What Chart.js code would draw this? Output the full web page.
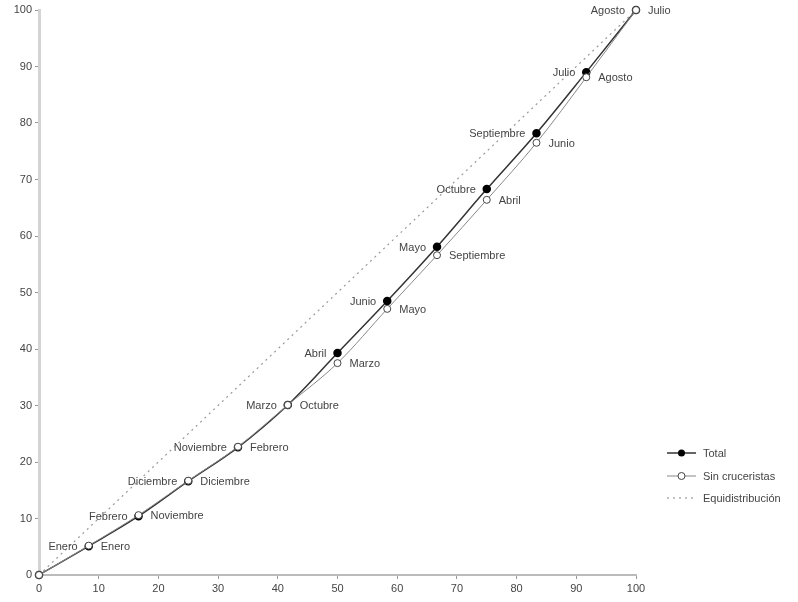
<!DOCTYPE html>
<html lang="es">
<head>
<meta charset="utf-8">
<title>Curva de concentración mensual</title>
<script src="https://cdn.jsdelivr.net/npm/chart.js@4.4.1/dist/chart.umd.min.js"></script>
<style>
  html, body { margin: 0; padding: 0; background: #fff; }
  .wrap { width: 798px; height: 602px; position: relative; }
</style>
</head>
<body>
<div class="wrap"><canvas id="lorenz"></canvas></div>
<script>
// % acumulado de meses (eje X), cada mes = 1/12
var monthPct = [0, 8.33, 16.67, 25, 33.33, 41.67, 50, 58.33, 66.67, 75, 83.33, 91.67, 100];
// % acumulado Total y sin cruceristas (eje Y)
var totalPct = [0, 5.1, 10.4, 16.6, 22.6, 30.1, 39.3, 48.5, 58.1, 68.3, 78.2, 89.0, 100];
var sinPct = [0, 5.2, 10.6, 16.7, 22.7, 30.1, 37.5, 47.1, 56.6, 66.4, 76.5, 88.1, 100];
var totalLabels = ["", "Enero", "Febrero", "Diciembre", "Noviembre", "Marzo", "Abril", "Junio", "Mayo", "Octubre", "Septiembre", "Julio", "Agosto"];
var sinLabels = ["", "Enero", "Noviembre", "Diciembre", "Febrero", "Octubre", "Marzo", "Mayo", "Septiembre", "Abril", "Junio", "Agosto", "Julio"];
var equiX = [0, 100];
var equiY = [0, 100];
var ticks = [0, 10, 20, 30, 40, 50, 60, 70, 80, 90, 100];

(function () {
  "use strict";

  var FONT = "'Liberation Sans', Arial, sans-serif";
  var TEXT = "#444";

  function pts(xs, ys) {
    return xs.map(function (x, i) { return { x: x, y: ys[i] }; });
  }

  // etiquetas de mes junto a cada punto
  var pointLabels = {
    id: "pointLabels",
    afterDatasetsDraw: function (chart) {
      var ctx = chart.ctx;
      ctx.save();
      ctx.font = "11px " + FONT;
      ctx.fillStyle = TEXT;
      ctx.textBaseline = "middle";
      [[0, totalLabels, "right", -11], [1, sinLabels, "left", 12]].forEach(function (cfg) {
        var meta = chart.getDatasetMeta(cfg[0]);
        ctx.textAlign = cfg[2];
        meta.data.forEach(function (p, i) {
          if (!cfg[1][i]) return;
          ctx.fillText(cfg[1][i], p.x + cfg[3], p.y + 1);
        });
      });
      ctx.restore();
    }
  };

  // leyenda manual abajo a la derecha
  var sideLegend = {
    id: "sideLegend",
    afterDraw: function (chart) {
      var ctx = chart.ctx;
      var x0 = 667, x1 = 696, tx = 703;
      var rows = [
        { y: 453, label: "Total" },
        { y: 476, label: "Sin cruceristas" },
        { y: 498, label: "Equidistribución" }
      ];
      ctx.save();
      ctx.font = "11px " + FONT;
      ctx.textBaseline = "middle";
      ctx.textAlign = "left";

      // Total
      ctx.strokeStyle = "#333";
      ctx.lineWidth = 1.5;
      ctx.beginPath(); ctx.moveTo(x0, rows[0].y); ctx.lineTo(x1, rows[0].y); ctx.stroke();
      ctx.fillStyle = "#000";
      ctx.beginPath(); ctx.arc((x0 + x1) / 2, rows[0].y, 3.5, 0, Math.PI * 2); ctx.fill();

      // Sin cruceristas
      ctx.strokeStyle = "#888";
      ctx.lineWidth = 1;
      ctx.beginPath(); ctx.moveTo(x0, rows[1].y); ctx.lineTo(x1, rows[1].y); ctx.stroke();
      ctx.fillStyle = "#fff";
      ctx.strokeStyle = "#444";
      ctx.beginPath(); ctx.arc((x0 + x1) / 2, rows[1].y, 3.5, 0, Math.PI * 2); ctx.fill(); ctx.stroke();

      // Equidistribución
      ctx.strokeStyle = "#888";
      ctx.lineWidth = 1.2;
      ctx.setLineDash([2, 4]);
      ctx.beginPath(); ctx.moveTo(x0, rows[2].y); ctx.lineTo(x1, rows[2].y); ctx.stroke();
      ctx.setLineDash([]);

      ctx.fillStyle = TEXT;
      rows.forEach(function (r) { ctx.fillText(r.label, tx, r.y + 1); });
      ctx.restore();
    }
  };

  function axis(pos, w, col) {
    return {
      type: "linear",
      position: pos,
      min: 0,
      max: 100,
      afterBuildTicks: function (s) { s.ticks = ticks.map(function (v) { return { value: v }; }); },
      grid: { display: true, drawOnChartArea: false, drawTicks: true, tickLength: 4, color: "#999" },
      border: { display: true, color: col, width: w },
      ticks: { color: TEXT, font: { family: FONT, size: 11 }, padding: 3, autoSkip: false, maxRotation: 0 }
    };
  }

  var xAxis = axis("bottom", 2, "#bbb");
  xAxis.afterFit = function (s) { s.height = 27; };
  var yAxis = axis("left", 3, "#d4d4d4");
  yAxis.afterFit = function (s) { s.width = 39; };

  new Chart(document.getElementById("lorenz"), {
    type: "line",
    data: {
      datasets: [
        {
          label: "Total",
          data: pts(monthPct, totalPct),
          borderColor: "#333",
          borderWidth: 1.5,
          pointBackgroundColor: "#000",
          pointBorderColor: "#000",
          pointRadius: 3.5,
          cubicInterpolationMode: "monotone",
          clip: false,
          order: 2
        },
        {
          label: "Sin cruceristas",
          data: pts(monthPct, sinPct),
          borderColor: "#888",
          borderWidth: 1,
          pointBackgroundColor: "#fff",
          pointBorderColor: "#444",
          pointBorderWidth: 1,
          pointRadius: 3.5,
          cubicInterpolationMode: "monotone",
          clip: false,
          order: 1
        },
        {
          label: "Equidistribución",
          data: pts(equiX, equiY),
          borderColor: "#999",
          borderWidth: 1.2,
          borderDash: [2, 4],
          pointRadius: 0,
          clip: false,
          order: 3
        }
      ]
    },
    options: {
      responsive: true,
      maintainAspectRatio: false,
      animation: false,
      layout: { padding: { top: 10, right: 162, bottom: 0, left: 0 } },
      plugins: { legend: { display: false }, tooltip: { enabled: false } },
      scales: { x: xAxis, y: yAxis }
    },
    plugins: [pointLabels, sideLegend]
  });
})();
</script>
</body>
</html>
